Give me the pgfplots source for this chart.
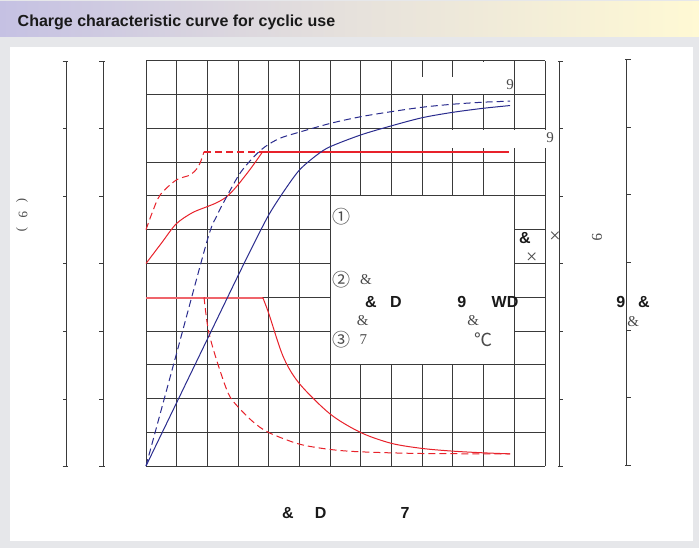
\documentclass[border=0pt]{standalone}
\usepackage{fontspec}
\setmainfont{Liberation Serif}
\setsansfont{Liberation Sans}
\newfontfamily\cjk{Noto Sans CJK SC}
\usepackage{pgfplots}
\pgfplotsset{compat=1.18}

\definecolor{bgray}{HTML}{E6E7EA}
\definecolor{barL}{HTML}{C5C1E3}
\definecolor{barM}{HTML}{E6E1DC}
\definecolor{barR}{HTML}{FFF9D4}
\definecolor{cred}{HTML}{E8222B}
\definecolor{cblue}{HTML}{2A2C8E}
\definecolor{gridc}{HTML}{3A3A3A}
\definecolor{txtg}{HTML}{4A4A4A}

\tikzset{
  ser/.style={font=\fontsize{15}{17}\selectfont, text=txtg, inner sep=0pt},
  bsf/.style={font=\sffamily\bfseries\fontsize{16}{18}\selectfont, text=black!90, inner sep=0pt},
  circ/.style={font=\cjk\fontsize{18}{20}\selectfont, text=txtg, inner sep=0pt},
  crs/.style={font=\fontsize{20}{22}\selectfont, text=txtg, inner sep=0pt},
}

\begin{document}
\begin{tikzpicture}
\begin{scope}[x=1pt,y=1pt]
  \useasboundingbox (0,0) rectangle (699,-548);
  \fill[bgray] (0,0) rectangle (699,-548);
  \shade[left color=barL, right color=barR, middle color=barM] (0,-2) rectangle (699,-37);
  \fill[white] (10,-47) rectangle (693,-541);
  \node[anchor=base west, bsf] at (17.5,-26.5)
    {Charge characteristic curve for cyclic use};
\end{scope}

\begin{axis}[
  at={(146pt,-466pt)}, anchor=south west,
  scale only axis, width=399pt, height=405pt,
  xmin=0, xmax=13, ymin=0, ymax=12,
  xtick={0,...,13}, ytick={0,...,12},
  xticklabels={}, yticklabels={},
  major tick length=0pt,
  grid=major,
  grid style={line width=1pt, draw=gridc},
  axis line style={draw=none},
  axis on top=false,
  clip=false,
]
% gaps in the grid behind the labels
\fill[white] (axis cs:8.06,11.03) rectangle (axis cs:11.94,11.52);
\fill[white] (axis cs:10.96,11.03) rectangle (axis cs:11.04,11.97);
\fill[white] (axis cs:9.06,9.42) rectangle (axis cs:13.3,9.97);
\filldraw[fill=white, draw=gridc, line width=1pt] (axis cs:6,3) rectangle (axis cs:12,8);

% charge voltage
\addplot[cred, line width=1pt, smooth] coordinates {
  (0,6.0) (0.5,6.6) (0.98,7.17) (1.5,7.5) (1.98,7.68) (2.3,7.8)
  (2.63,7.98) (2.95,8.28) (3.4,8.8) (3.8,9.31)
};
\addplot[cred, line width=1.5pt, solid] coordinates {(3.8,9.31) (11.83,9.31)};
\addplot[cred, line width=1pt, dash pattern=on 7pt off 4pt, smooth] coordinates {
  (0,7.0) (0.2,7.5) (0.46,8.03) (0.98,8.47) (1.43,8.62) (1.65,8.8)
  (1.76,8.97) (1.89,9.31)
};
\addplot[cred, line width=1.5pt, dash pattern=on 7pt off 4pt] coordinates {(1.89,9.31) (3.8,9.31)};

% charge current
\addplot[cred!70, line width=2pt, solid] coordinates {(0,4.99) (3.8,4.99)};
\addplot[cred, line width=1pt, smooth] coordinates {
  (3.8,5.0) (4.0,4.52) (4.47,3.24) (4.99,2.45) (6,1.54) (7,0.99)
  (8,0.67) (9,0.52) (10,0.44) (11,0.39) (11.86,0.36)
};
\addplot[cred, line width=1pt, dash pattern=on 7pt off 4pt, smooth] coordinates {
  (1.89,5.0) (2.03,4.03) (2.3,3.14) (2.68,2.15) (2.99,1.76) (3.5,1.3)
  (4.0,0.99) (4.99,0.65) (6,0.49) (7,0.42) (9,0.37) (11.86,0.36)
};

% charge amount
\addplot[cblue, line width=1pt, smooth] coordinates {
  (0,0) (1,1.88) (2,3.76) (3,5.64) (3.5,6.56) (4,7.44) (4.5,8.15)
  (5,8.77) (5.56,9.21) (6,9.46) (7,9.81) (8,10.08) (9,10.32)
  (10,10.48) (11,10.6) (11.86,10.68)
};
\addplot[cblue, line width=1pt, dash pattern=on 7pt off 4pt, smooth] coordinates {
  (0,0) (1,3.35) (2,6.7) (2.3,7.4) (2.63,7.98) (3.06,8.67) (3.5,9.15)
  (3.88,9.46) (4.36,9.71) (4.99,9.89) (6,10.15) (7,10.35) (8,10.5)
  (9,10.63) (10,10.72) (11,10.78) (11.86,10.81)
};
\end{axis}

\begin{scope}[x=1pt,y=1pt]
  % side scales
  \foreach \sx in {66.7,103.3} {
    \draw[gridc, line width=1pt] (\sx,-61.5) -- (\sx,-466.5);
    \foreach \k in {1,...,5} \draw[gridc, line width=1pt] (\sx,-61.5-67.5*\k) -- ++(-4,0);
    \draw[gridc, line width=1pt] (\sx-4,-61.5) -- (\sx+1.5,-61.5);
    \draw[gridc, line width=1pt] (\sx-4,-466.5) -- (\sx+1.5,-466.5);
  }
  \foreach \sx/\sy in {559.3/61.5, 626.5/60} {
    \draw[gridc, line width=1pt] (\sx,-\sy) -- (\sx,-\sy-405);
    \foreach \k in {1,...,5} \draw[gridc, line width=1pt] (\sx,-\sy-67.5*\k) -- ++(4,0);
    \draw[gridc, line width=1pt] (\sx-1.5,-\sy) -- (\sx+4,-\sy);
    \draw[gridc, line width=1pt] (\sx-1.5,-\sy-405) -- (\sx+4,-\sy-405);
  }

  % labels
  \node[ser, rotate=-90, font=\fontsize{13}{15}\selectfont] at (22,-215) {(\hspace{9pt}9\hspace{9pt})};
  \node[ser] at (510,-85) {9};
  \node[ser] at (550,-138) {9};
  \node[bsf] at (525,-237.7) {\&};
  \node[crs] at (531.7,-258) {×};
  \node[crs] at (555,-236.7) {×};
  \node[ser, rotate=-90] at (597,-237) {9};
  \node[bsf] at (620.7,-301.7) {9};
  \node[bsf] at (644,-301.7) {\&};
  \node[ser] at (633.3,-321.7) {\&};

  \node[circ] at (341.7,-216.7) {①};
  \node[circ] at (341.7,-280) {②};
  \node[ser] at (366,-280) {\&};
  \node[bsf] at (371,-301.7) {\&};
  \node[bsf] at (396,-301.7) {D};
  \node[bsf] at (461.7,-301.7) {9};
  \node[bsf] at (505,-301.7) {WD};
  \node[ser] at (362.7,-321) {\&};
  \node[ser] at (473.3,-321) {\&};
  \node[circ] at (341.7,-340) {③};
  \node[ser] at (363.3,-340) {7};
  \node[circ] at (483.3,-340) {℃};

  \node[bsf] at (288,-513) {\&};
  \node[bsf] at (320.7,-513) {D};
  \node[bsf] at (405,-513) {7};
\end{scope}
\end{tikzpicture}
\end{document}
